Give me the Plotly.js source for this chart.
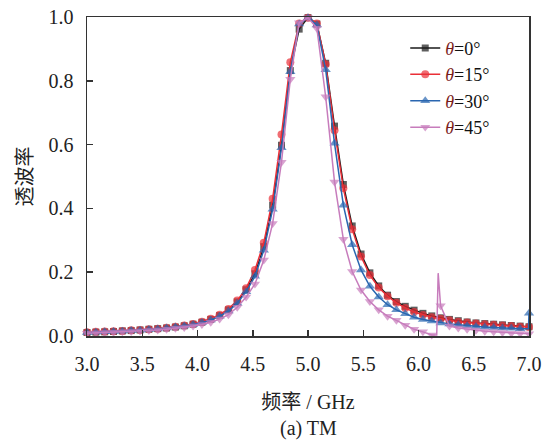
<!DOCTYPE html>
<html>
<head>
<meta charset="utf-8">
<script src="https://cdn.plot.ly/plotly-3.0.1.min.js"></script>
<style>html,body{margin:0;padding:0;background:#fff;}#chart{width:553px;height:443px;}</style>
</head>
<body>
<div id="chart"></div>
<script>
// Frequency grid (GHz), one marker every 0.08 GHz
const freq = [3.00,3.08,3.16,3.24,3.32,3.40,3.48,3.56,3.64,3.72,3.80,3.88,3.96,4.04,4.12,4.20,4.28,4.36,4.44,4.52,4.60,4.68,4.76,4.84,4.92,5.00,5.08,5.16,5.24,5.32,5.40,5.48,5.56,5.64,5.72,5.80,5.88,5.96,6.04,6.12,6.20,6.28,6.36,6.44,6.52,6.60,6.68,6.76,6.84,6.92,7.00];

const t0 = [0.011,0.012,0.013,0.014,0.016,0.017,0.019,0.021,0.023,0.025,0.028,0.032,0.037,0.043,0.052,0.064,0.082,0.107,0.145,0.195,0.280,0.410,0.598,0.832,0.962,0.998,0.978,0.855,0.658,0.475,0.345,0.257,0.198,0.157,0.128,0.108,0.093,0.081,0.071,0.063,0.057,0.052,0.048,0.044,0.041,0.039,0.037,0.035,0.033,0.031,0.029];
const t15 = [0.012,0.013,0.014,0.015,0.016,0.018,0.019,0.021,0.023,0.026,0.029,0.033,0.038,0.045,0.054,0.067,0.085,0.111,0.150,0.207,0.292,0.430,0.632,0.858,0.980,0.998,0.980,0.852,0.645,0.463,0.335,0.249,0.191,0.152,0.125,0.104,0.088,0.075,0.066,0.059,0.054,0.049,0.045,0.042,0.039,0.037,0.035,0.033,0.031,0.029,0.028];
const t30 = [0.011,0.012,0.013,0.014,0.015,0.017,0.018,0.020,0.022,0.025,0.028,0.031,0.036,0.042,0.050,0.062,0.078,0.103,0.139,0.187,0.269,0.397,0.590,0.828,0.978,0.998,0.975,0.835,0.604,0.410,0.286,0.207,0.156,0.122,0.098,0.082,0.070,0.059,0.052,0.047,0.041,0.038,0.035,0.032,0.030,0.028,0.027,0.025,0.024,0.023,0.071];
const t45 = [0.009,0.010,0.011,0.012,0.013,0.014,0.016,0.017,0.019,0.021,0.024,0.027,0.031,0.036,0.043,0.053,0.067,0.090,0.122,0.163,0.238,0.353,0.545,0.805,0.982,0.998,0.965,0.750,0.483,0.303,0.202,0.144,0.108,0.082,0.062,0.049,0.034,0.021,0.013,0.003,0.095,0.031,0.025,0.021,0.018,0.015,0.013,0.011,0.009,0.008,0.007];

// Line-only detail points (no marker): resonance spike of 45° near 6.18 GHz, jump of 30° at 7 GHz
const spike45F = [6.165, 6.178];
const spike45T = [0.003, 0.197];
const jump30F = [6.995];
const jump30T = [0.023];

const names = ['0','15','30','45'];
const colors = ['#1a1a1a','#ea2f37','#2a66b0','#c77cbc'];
const symbols = ['square','circle','triangle-up','triangle-down'];
const sizes = [7,8,9,9];

const SERIF = 'Liberation Serif';

function merge(f, t, ef, et, msize) {
  const pts = f.map((x,i)=>({x, y:t[i], s:msize}));
  ef.forEach((x,i)=>pts.push({x, y:et[i], s:0}));
  pts.sort((a,b)=>a.x-b.x);
  return {x:pts.map(p=>p.x), y:pts.map(p=>p.y), s:pts.map(p=>p.s)};
}

const series = [
  merge(freq, t0, [], [], sizes[0]),
  merge(freq, t15, [], [], sizes[1]),
  merge(freq, t30, jump30F, jump30T, sizes[2]),
  merge(freq, t45, spike45F, spike45T, sizes[3])
];

const traces = series.map((d,i)=>({
  type:'scatter', mode:'lines+markers', x:d.x, y:d.y,
  name:'<span style="color:#7a1c1c"><i>θ</i></span>=' + names[i] + '°',
  line:{color:colors[i], width:1.5},
  marker:{symbol:symbols[i], size:d.s, color:colors[i], line:{width:0}},
  cliponaxis:false
}));

const layout = {
  width:553, height:443,
  margin:{l:87, r:24, t:17, b:107},
  paper_bgcolor:'#ffffff', plot_bgcolor:'#ffffff',
  font:{family:SERIF},
  showlegend:true,
  legend:{x:0.72, y:0.96, xanchor:'left', yanchor:'top', bgcolor:'rgba(0,0,0,0)',
    font:{family:SERIF, size:18, color:'#111'}},
  xaxis:{showgrid:false, zeroline:false, showline:true, mirror:true,
    linecolor:'#333', linewidth:1.5, ticks:'inside', ticklen:6, tickwidth:1.5, tickcolor:'#333',
    tickfont:{family:SERIF, size:20, color:'#222'}, tickformat:'.1f',
    range:[3,7], dtick:0.5, tick0:3, ticklabelstandoff:9,
    title:{text:'频率 / GHz', font:{family:'Liberation Serif, Noto Sans CJK SC', size:20, color:'#222'}, standoff:21}},
  yaxis:{showgrid:false, zeroline:false, showline:true, mirror:true,
    linecolor:'#333', linewidth:1.5, ticks:'inside', ticklen:6, tickwidth:1.5, tickcolor:'#333',
    tickfont:{family:SERIF, size:20, color:'#222'}, tickformat:'.1f',
    range:[0,1], dtick:0.2, tick0:0, ticklabelstandoff:8,
    title:{text:'透波率', font:{family:'Noto Sans CJK SC', size:20, color:'#222'}, standoff:10}},
  annotations:[{xref:'paper', yref:'paper', x:0.5, y:-0.29, xanchor:'center', yanchor:'middle', showarrow:false,
    text:'(a) TM', font:{family:SERIF, size:20, color:'#222'}}]
};

Plotly.newPlot('chart', traces, layout, {displayModeBar:false, staticPlot:true});
</script>
</body>
</html>
